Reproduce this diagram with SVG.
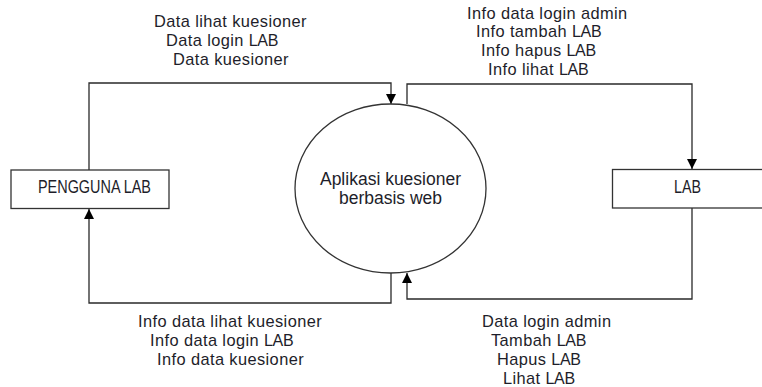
<svg xmlns="http://www.w3.org/2000/svg" width="762" height="387" viewBox="0 0 762 387">
<style>
text{font-family:"Liberation Sans",Arial,sans-serif;font-size:17.5px;fill:#1e1e2a}
.fl{font-size:16.4px;letter-spacing:0.4px}
.lab{font-size:16px;letter-spacing:-0.3px}
.node{fill:#fff;stroke:#333;stroke-width:1.3}
.flow{fill:none;stroke:#2a2a2a;stroke-width:1.3}
</style>
<defs>
<marker id="arr" viewBox="0 0 10 10" refX="10" refY="5" markerWidth="10" markerHeight="10" markerUnits="userSpaceOnUse" orient="auto">
<path d="M0,0 L10,5 L0,10 Z" fill="#000"/>
</marker>
</defs>
<rect width="762" height="387" fill="#fff"/>
<g id="connectors">
<path class="flow" d="M89,170 V83 H391 V104" marker-end="url(#arr)"/>
<path class="flow" d="M407,104 V84 H692 V169" marker-end="url(#arr)"/>
<path class="flow" d="M391,273 V303 H89 V209" marker-end="url(#arr)"/>
<path class="flow" d="M692,208 V299 H407 V273" marker-end="url(#arr)"/>
</g>
<g id="pengguna">
<rect class="node" x="11" y="170" width="158" height="38.5"/>
<text x="38" y="193" textLength="113" lengthAdjust="spacingAndGlyphs">PENGGUNA LAB</text>
</g>
<g id="lab">
<rect class="node" x="612.5" y="169.5" width="160" height="38.5"/>
<text x="674" y="193" textLength="27" lengthAdjust="spacingAndGlyphs">LAB</text>
</g>
<g id="aplikasi">
<ellipse class="node" cx="390.5" cy="188.5" rx="95.5" ry="84.5" stroke="#555"/>
<text x="390.5" y="185" text-anchor="middle">Aplikasi kuesioner</text>
<text x="390.5" y="204" text-anchor="middle">berbasis web</text>
</g>
<g id="labels" class="fl">
<text class="fl" x="154" y="26.5">Data lihat kuesioner</text>
<text class="fl" x="166" y="45.5">Data login <tspan class="lab">LAB</tspan></text>
<text class="fl" x="173" y="64.5">Data kuesioner</text>
<text class="fl" x="467" y="18.5">Info data login admin</text>
<text class="fl" x="476" y="37">Info tambah <tspan class="lab">LAB</tspan></text>
<text class="fl" x="481" y="55.5">Info hapus <tspan class="lab">LAB</tspan></text>
<text class="fl" x="488" y="74.5">Info lihat  <tspan class="lab">LAB</tspan></text>
<text class="fl" x="138" y="326.5">Info data lihat kuesioner</text>
<text class="fl" x="150" y="345.5">Info data login <tspan class="lab">LAB</tspan></text>
<text class="fl" x="157" y="364.5">Info data kuesioner</text>
<text class="fl" x="482" y="326.5">Data login admin</text>
<text class="fl" x="491" y="345.5">Tambah <tspan class="lab">LAB</tspan></text>
<text class="fl" x="497" y="364.5">Hapus <tspan class="lab">LAB</tspan></text>
<text class="fl" x="503" y="383.5">Lihat <tspan class="lab">LAB</tspan></text>
</g>
</svg>
